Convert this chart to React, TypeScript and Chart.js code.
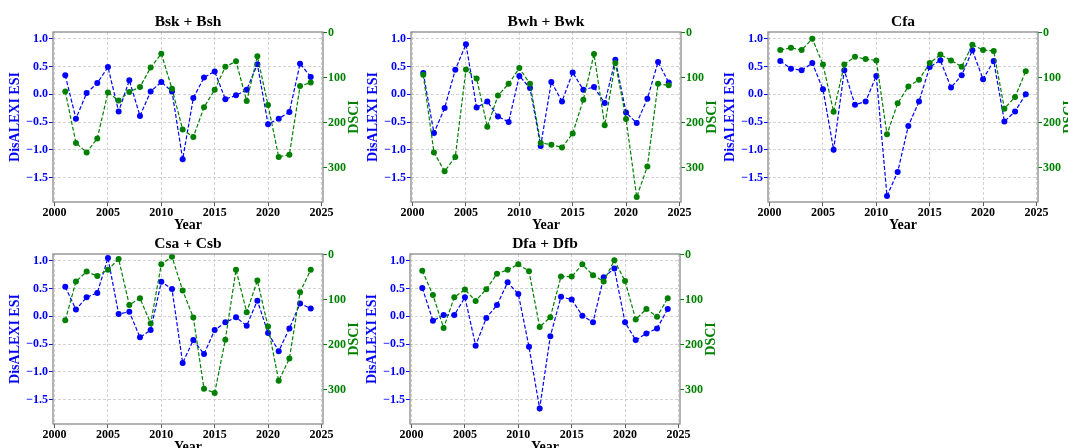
import React, { useEffect, useRef } from "react";
import { Chart, registerables } from "chart.js";

Chart.register(...registerables);

// ---------------- data ----------------
const years = [2001, 2002, 2003, 2004, 2005, 2006, 2007, 2008, 2009, 2010, 2011, 2012, 2013, 2014, 2015, 2016, 2017, 2018, 2019, 2020, 2021, 2022, 2023, 2024];

const xTickValues = [2000, 2005, 2010, 2015, 2020, 2025];
const esiTickValues = [-1.5, -1.0, -0.5, 0.0, 0.5, 1.0];
const dsciTickValues = [0, 100, 200, 300];

const bskEsi = [0.34, -0.44, 0.02, 0.20, 0.49, -0.31, 0.25, -0.39, 0.05, 0.22, 0.05, -1.17, -0.07, 0.30, 0.41, -0.09, -0.02, 0.08, 0.54, -0.54, -0.44, -0.32, 0.55, 0.31];
const bskDsci = [131, 245, 266, 235, 133, 151, 132, 121, 78, 47, 125, 215, 232, 166, 127, 76, 64, 152, 53, 161, 276, 271, 119, 111];

const bwhEsi = [0.38, -0.70, -0.25, 0.44, 0.90, -0.24, -0.13, -0.40, -0.50, 0.33, 0.11, -0.93, 0.22, -0.13, 0.39, 0.08, 0.13, -0.16, 0.62, -0.33, -0.52, -0.08, 0.58, 0.21];
const bwhDsci = [94, 266, 308, 276, 82, 102, 209, 140, 114, 79, 114, 245, 249, 255, 224, 149, 48, 206, 68, 192, 365, 297, 114, 117];

const cfaEsi = [0.60, 0.46, 0.43, 0.56, 0.09, -1.00, 0.43, -0.19, -0.13, 0.33, -1.83, -1.40, -0.57, -0.13, 0.49, 0.61, 0.12, 0.34, 0.79, 0.27, 0.60, -0.49, -0.31, 0.00];
const cfaDsci = [39, 34, 39, 14, 71, 176, 71, 54, 59, 62, 226, 157, 120, 105, 68, 49, 62, 76, 27, 39, 41, 169, 143, 86];

const csaEsi = [0.53, 0.12, 0.34, 0.42, 1.05, 0.04, 0.08, -0.38, -0.25, 0.62, 0.49, -0.84, -0.43, -0.68, -0.25, -0.11, -0.02, -0.17, 0.28, -0.30, -0.63, -0.22, 0.23, 0.14];
const csaDsci = [146, 60, 38, 48, 34, 10, 112, 97, 153, 22, 5, 80, 140, 298, 307, 189, 34, 128, 58, 160, 280, 231, 84, 34];

const dfaEsi = [0.51, -0.08, 0.02, 0.02, 0.34, -0.53, -0.03, 0.20, 0.61, 0.40, -0.55, -1.66, -0.36, 0.35, 0.30, 0.01, -0.11, 0.70, 0.86, -0.11, -0.43, -0.31, -0.22, 0.13];
const dfaDsci = [36, 90, 163, 95, 78, 103, 77, 43, 34, 22, 37, 161, 139, 49, 49, 22, 46, 60, 13, 59, 144, 121, 138, 97];

const panelTitles = ["Bsk + Bsh", "Bwh + Bwk", "Cfa", "Csa + Csb", "Dfa + Dfb"];
const panelEsi = [bskEsi, bwhEsi, cfaEsi, csaEsi, dfaEsi];
const panelDsci = [bskDsci, bwhDsci, cfaDsci, csaDsci, dfaDsci];

// ---------------- layout / style ----------------
const FONT = "'Liberation Serif', 'Times New Roman', Times, serif";
const BLUE = "#0000ff";
const GREEN = "#008000";
const W = 363;
const H = 234;
const PLOT_L = 55;
const PLOT_R = 325;
const PLOT_B = 202;

const panelPositions = [
  { left: -2, top: 0 },
  { left: 356, top: 0 },
  { left: 713, top: 0 },
  { left: -2, top: 222 },
  { left: 355, top: 222 },
];

const fmtEsi = (v: number) => {
  const s = Math.abs(v).toFixed(1);
  return v < -1e-9 ? "\u2212" + s : s;
};

const framePlugin = {
  id: "frame",
  afterDatasetsDraw(chart: any) {
    const { ctx, chartArea } = chart;
    const { left, top, right, bottom } = chartArea;
    ctx.save();
    ctx.strokeStyle = "#808080";
    ctx.lineWidth = 1.2;
    ctx.strokeRect(left, top, right - left, bottom - top);
    // right axis label, rotated bottom-to-top like matplotlib
    ctx.fillStyle = GREEN;
    ctx.font = `bold 14px ${FONT}`;
    ctx.textAlign = "center";
    ctx.textBaseline = "middle";
    ctx.translate(right + 31, (top + bottom) / 2);
    ctx.rotate(-Math.PI / 2);
    ctx.fillText("DSCI", 0, 0);
    ctx.restore();
  },
};

function Panel({ idx }: { idx: number }) {
  const ref = useRef<HTMLCanvasElement>(null);
  useEffect(() => {
    const esi = panelEsi[idx];
    const dsci = panelDsci[idx];
    const tickFont = { family: FONT, size: 12, weight: "bold" as const };
    const chart = new Chart(ref.current as HTMLCanvasElement, {
      type: "line",
      data: {
        datasets: [
          {
            label: "DSCI",
            data: years.map((yr, i) => ({ x: yr, y: dsci[i] })),
            yAxisID: "y1",
            borderColor: GREEN,
            backgroundColor: GREEN,
            pointBackgroundColor: GREEN,
            pointBorderColor: GREEN,
            borderDash: [4, 2],
            borderWidth: 1.2,
            pointRadius: 3,
            pointBorderWidth: 0,
            tension: 0,
            fill: false,
            order: 0,
          },
          {
            label: "ESI",
            data: years.map((yr, i) => ({ x: yr, y: esi[i] })),
            yAxisID: "y",
            borderColor: BLUE,
            backgroundColor: BLUE,
            pointBackgroundColor: BLUE,
            pointBorderColor: BLUE,
            borderDash: [4, 2],
            borderWidth: 1.2,
            pointRadius: 3,
            pointBorderWidth: 0,
            tension: 0,
            fill: false,
            order: 1,
          },
        ],
      },
      options: {
        responsive: false,
        animation: false,
        events: [],
        layout: { padding: 0 },
        plugins: {
          legend: { display: false },
          tooltip: { enabled: false },
          title: {
            display: true,
            text: panelTitles[idx],
            fullSize: false,
            color: "#000",
            font: { family: FONT, size: 15.5, weight: "bold", lineHeight: 1.2 },
            padding: { top: 12.4, bottom: 1 },
          },
        },
        scales: {
          x: {
            type: "linear",
            min: 1999.85,
            max: 2025.15,
            afterBuildTicks: (s: any) => {
              s.ticks = xTickValues.map((v) => ({ value: v }));
            },
            afterFit: (s: any) => {
              s.height = H - PLOT_B;
            },
            ticks: {
              callback: (v: any) => String(v),
              color: "#000",
              font: tickFont,
              padding: 0,
              maxRotation: 0,
              autoSkip: false,
            },
            grid: {
              color: "#c8c8c8",
              lineWidth: 0.8,
              drawTicks: true,
              tickLength: 4,
              tickColor: "#555",
              tickWidth: 1,
              tickBorderDash: [],
            },
            border: { display: false, dash: [3, 2] },
            title: {
              display: true,
              text: "Year",
              color: "#000",
              font: { family: FONT, size: 14, weight: "bold", lineHeight: 1.2 },
              padding: 0,
            },
          },
          y: {
            type: "linear",
            position: "left",
            min: -1.94,
            max: 1.12,
            afterBuildTicks: (s: any) => {
              s.ticks = esiTickValues.map((v) => ({ value: v }));
            },
            afterFit: (s: any) => {
              s.width = PLOT_L;
            },
            ticks: {
              callback: (v: any) => fmtEsi(Number(v)),
              color: BLUE,
              font: tickFont,
              padding: 1,
            },
            grid: {
              color: "#c8c8c8",
              lineWidth: 0.8,
              drawTicks: true,
              tickLength: 4,
              tickColor: BLUE,
              tickWidth: 1,
              tickBorderDash: [],
            },
            border: { display: false, dash: [3, 2] },
            title: {
              display: true,
              text: "DisALEXI ESI",
              color: BLUE,
              font: { family: FONT, size: 14, weight: "bold", lineHeight: 1.2 },
              padding: { top: 9, bottom: 0 },
            },
          },
          y1: {
            type: "linear",
            position: "right",
            reverse: true,
            min: -1,
            max: 376,
            afterBuildTicks: (s: any) => {
              s.ticks = dsciTickValues.map((v) => ({ value: v }));
            },
            afterFit: (s: any) => {
              s.width = W - PLOT_R;
            },
            ticks: {
              callback: (v: any) => String(v),
              color: GREEN,
              font: tickFont,
              padding: 1,
            },
            grid: {
              drawOnChartArea: false,
              drawTicks: true,
              tickLength: 4,
              tickColor: GREEN,
              tickWidth: 1,
            },
            border: { display: false },
          },
        },
      },
      plugins: [framePlugin],
    } as any);
    return () => chart.destroy();
  }, [idx]);

  const pos = panelPositions[idx];
  return (
    <div style={{ position: "absolute", left: pos.left, top: pos.top, width: W, height: H }}>
      <canvas ref={ref} width={W} height={H} style={{ width: W, height: H, display: "block" }} />
    </div>
  );
}

export default function App() {
  return (
    <div
      style={{
        position: "fixed",
        left: 0,
        top: 0,
        width: 1068,
        height: 448,
        overflow: "hidden",
        background: "#ffffff",
      }}
    >
      {panelTitles.map((_, i) => (
        <Panel key={i} idx={i} />
      ))}
    </div>
  );
}
